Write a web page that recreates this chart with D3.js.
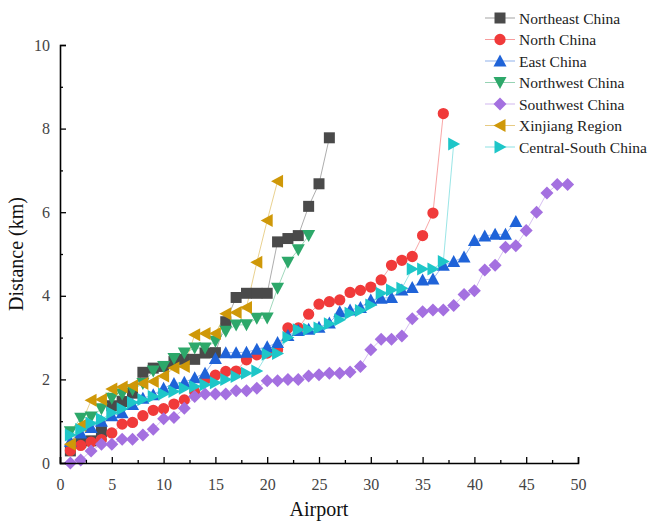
<!DOCTYPE html>
<html>
<head>
<meta charset="utf-8">
<script src="https://cdn.jsdelivr.net/npm/d3@7"></script>
<style>
  body { margin: 0; background: #fff; }
  text { font-family: "Liberation Serif", "DejaVu Serif", serif; }
</style>
</head>
<body>
<svg id="chart" width="662" height="521"></svg>
<script>
// distance (km) per airport, airports sorted ascending within each region
const northeast = [0.29, 0.49, 0.53, 0.75, 1.37, 1.47, 1.67, 2.17, 2.27, 2.31, 2.43, 2.48, 2.48, 2.63,
  2.64, 3.38, 3.96, 4.06, 4.06, 4.06, 5.29, 5.37, 5.44, 6.14, 6.68, 7.78];
const north = [0.3, 0.42, 0.5, 0.56, 0.72, 0.93, 0.97, 1.13, 1.26, 1.3, 1.41, 1.51, 1.7, 1.98, 2.1,
  2.19, 2.2, 2.47, 2.59, 2.63, 2.71, 3.23, 3.23, 3.56, 3.8, 3.86, 3.9, 4.08, 4.13, 4.21, 4.38, 4.73,
  4.85, 4.94, 5.44, 5.98, 8.36];
const east = [0.52, 0.72, 0.85, 1.0, 1.13, 1.2, 1.4, 1.55, 1.63, 1.79, 1.9, 1.93, 2.04, 2.15, 2.5,
  2.64, 2.64, 2.65, 2.72, 2.78, 2.88, 3.05, 3.17, 3.2, 3.25, 3.35, 3.62, 3.66, 3.72, 3.9, 3.94, 3.96,
  4.14, 4.2, 4.38, 4.4, 4.73, 4.82, 4.93, 5.32, 5.43, 5.47, 5.47, 5.78];
const northwest = [0.75, 1.07, 1.1, 1.3, 1.55, 1.65, 1.75, 1.9, 2.2, 2.31, 2.5, 2.63, 2.75, 2.75, 2.91,
  3.15, 3.3, 3.31, 3.46, 3.47, 4.18, 4.8, 5.1, 5.44];
const southwest = [0.0, 0.07, 0.29, 0.45, 0.45, 0.57, 0.57, 0.67, 0.81, 1.06, 1.09, 1.31, 1.59, 1.65,
  1.65, 1.65, 1.73, 1.73, 1.79, 1.97, 1.97, 2.0, 2.0, 2.08, 2.11, 2.15, 2.15, 2.18, 2.31, 2.71, 2.96,
  2.96, 3.04, 3.45, 3.62, 3.66, 3.66, 3.77, 4.03, 4.12, 4.62, 4.73, 5.16, 5.2, 5.56, 6.0, 6.46, 6.66, 6.66];
const xinjiang = [0.45, 0.9, 1.5, 1.52, 1.77, 1.82, 1.85, 1.9, 1.95, 2.08, 2.27, 2.31, 3.07, 3.1, 3.1,
  3.57, 3.6, 3.72, 4.8, 5.8, 6.74];
const centralSouth = [0.67, 0.8, 0.95, 1.05, 1.2, 1.3, 1.45, 1.52, 1.59, 1.65, 1.71, 1.79, 1.83, 1.87,
  1.92, 2.0, 2.07, 2.15, 2.2, 2.6, 2.62, 3.0, 3.19, 3.2, 3.23, 3.33, 3.43, 3.58, 3.65, 3.78, 4.06, 4.14,
  4.18, 4.64, 4.64, 4.64, 4.82, 7.63];

const xTicks = [0, 5, 10, 15, 20, 25, 30, 35, 40, 45, 50];
const yTicks = [0, 2, 4, 6, 8, 10];

const series = [
  { name: 'Northeast China', values: northeast, color: '#4a4a4a', shape: 'square' },
  { name: 'North China', values: north, color: '#f03a3a', shape: 'circle' },
  { name: 'East China', values: east, color: '#1f63d8', shape: 'up' },
  { name: 'Northwest China', values: northwest, color: '#2da86a', shape: 'down' },
  { name: 'Southwest China', values: southwest, color: '#a470e0', shape: 'diamond' },
  { name: 'Xinjiang Region', values: xinjiang, color: '#cf9808', shape: 'left' },
  { name: 'Central-South China', values: centralSouth, color: '#1ec6c8', shape: 'right' }
];

const svg = d3.select('#chart');
const margin = { left: 60, right: 84, top: 45, bottom: 58 };
const W = 662, H = 521;

const x = d3.scaleLinear().domain([0, 50]).range([margin.left, W - margin.right]);
const y = d3.scaleLinear().domain([0, 10]).range([H - margin.bottom, margin.top]);

// marker path centred on 0,0
function marker(shape) {
  const s = 5.5;
  switch (shape) {
    case 'square': return `M${-s},${-s}h${2 * s}v${2 * s}h${-2 * s}Z`;
    case 'circle': return d3.symbol(d3.symbolCircle, 100)();
    case 'up': return `M0,${-s - 1}L${s + 1},${s}L${-s - 1},${s}Z`;
    case 'down': return `M0,${s + 1}L${s + 1},${-s}L${-s - 1},${-s}Z`;
    case 'left': return `M${-s - 1},0L${s},${-s - 1}L${s},${s + 1}Z`;
    case 'right': return `M${s + 1},0L${-s},${-s - 1}L${-s},${s + 1}Z`;
    case 'diamond': return `M0,${-s - 1}L${s + 1},0L0,${s + 1}L${-s - 1},0Z`;
  }
}

const line = d3.line().x((d, i) => x(i + 1)).y(d => y(d));

const plot = svg.append('g');
series.forEach(s => {
  plot.append('path')
    .attr('d', line(s.values))
    .attr('fill', 'none')
    .attr('stroke', s.color)
    .attr('stroke-opacity', 0.45)
    .attr('stroke-width', 1);
});
series.forEach(s => {
  plot.selectAll(null)
    .data(s.values)
    .enter().append('path')
    .attr('d', marker(s.shape))
    .attr('transform', (d, i) => `translate(${x(i + 1)},${y(d)})`)
    .attr('fill', s.color);
});

// axes, ticks inside
const xAxis = svg.append('g').attr('transform', `translate(0,${y(0)})`);
xAxis.call(d3.axisBottom(x).tickValues(d3.range(2.5, 50, 5)).tickSize(-3).tickFormat(''));
xAxis.call(g => g.selectAll('.tick line').attr('stroke-width', 1.3));
const xMajor = svg.append('g').attr('transform', `translate(0,${y(0)})`)
  .call(d3.axisBottom(x).tickValues(xTicks).tickSize(-6).tickPadding(16));
xMajor.selectAll('.tick line').attr('stroke-width', 1.3);
xMajor.selectAll('.tick text').attr('font-size', 16).attr('fill', '#444')
  .attr('font-family', '"Liberation Serif", serif');
xMajor.select('.domain').attr('stroke-width', 1.6);
xAxis.select('.domain').remove();

const yAxis = svg.append('g').attr('transform', `translate(${x(0)},0)`);
yAxis.call(d3.axisLeft(y).tickValues(d3.range(1, 10, 2)).tickSize(-3).tickFormat(''));
yAxis.selectAll('.tick line').attr('stroke-width', 1.3);
yAxis.select('.domain').remove();
const yMajor = svg.append('g').attr('transform', `translate(${x(0)},0)`)
  .call(d3.axisLeft(y).tickValues(yTicks).tickSize(-6).tickPadding(10));
yMajor.selectAll('.tick line').attr('stroke-width', 1.3);
yMajor.selectAll('.tick text').attr('font-size', 16).attr('fill', '#444')
  .attr('font-family', '"Liberation Serif", serif');
yMajor.select('.domain').attr('stroke-width', 1.6);

svg.append('text')
  .attr('x', (x(0) + x(50)) / 2).attr('y', 516)
  .attr('text-anchor', 'middle').attr('font-size', 20).attr('fill', '#111')
  .text('Airport');
svg.append('text')
  .attr('transform', `translate(23,${y(5)}) rotate(-90)`)
  .attr('text-anchor', 'middle').attr('font-size', 20).attr('fill', '#111')
  .text('Distance (km)');

// legend
const legend = svg.append('g').attr('transform', 'translate(485,18)');
series.forEach((s, i) => {
  const row = legend.append('g').attr('transform', `translate(0,${i * 21.5})`);
  row.append('line').attr('x1', 0).attr('x2', 30).attr('y1', 0).attr('y2', 0)
    .attr('stroke', s.color).attr('stroke-opacity', 0.5).attr('stroke-width', 1);
  row.append('path').attr('d', marker(s.shape)).attr('transform', 'translate(15,0)')
    .attr('fill', s.color);
  row.append('text').attr('x', 34).attr('y', 5.5)
    .attr('font-size', 15.5).attr('fill', '#222').text(s.name);
});
</script>
</body>
</html>
